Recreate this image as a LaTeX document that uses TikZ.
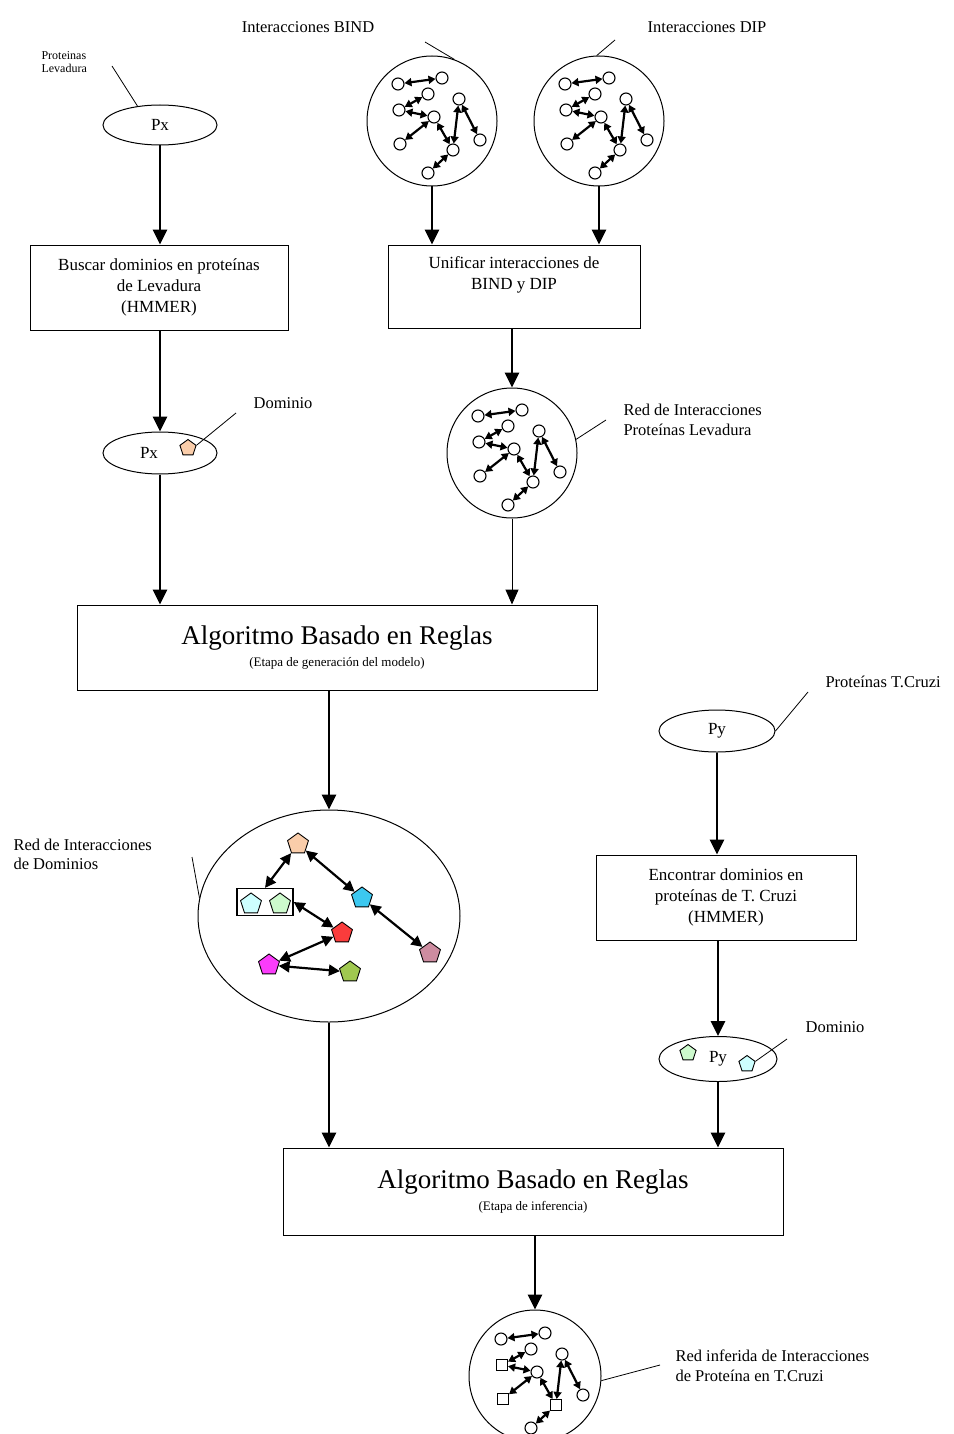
\documentclass[tikz,border=0pt]{standalone}
\usepackage{fontspec}
\setmainfont{Liberation Serif}
\usetikzlibrary{arrows.meta,shapes.geometric}

\definecolor{peach}{RGB}{250,205,170}
\definecolor{palecyan}{RGB}{205,255,255}
\definecolor{palegreen}{RGB}{205,250,205}
\definecolor{skyblue}{RGB}{60,200,240}
\definecolor{domred}{RGB}{250,60,60}
\definecolor{mauve}{RGB}{205,140,160}
\definecolor{dommagenta}{RGB}{250,60,250}
\definecolor{olivegreen}{RGB}{160,200,80}

\tikzset{
  txt/.style={font=\fontsize{17}{21}\selectfont, align=center},
  steptext/.style={draw, line width=1pt, txt, inner sep=0pt},
  prot/.style={draw, line width=1pt, ellipse, inner sep=0pt, txt},
  ring/.style={draw, line width=1pt, circle, minimum size=130pt, inner sep=0pt},
  flow/.style={line width=2.9pt, -{Triangle[length=15pt,width=14pt]}},
  thinflow/.style={line width=1pt, -{Triangle[length=15pt,width=13pt]}},
  callout/.style={line width=0.8pt},
  netnode/.style={draw, line width=1.1pt, circle, fill=white, minimum size=12pt, inner sep=0pt},
  netalt/.style={netnode},
  netlink/.style={line width=2.2pt, {Triangle[length=7pt,width=8pt]}-{Triangle[length=7pt,width=8pt]}},
  penta/.style={draw, line width=0.9pt, regular polygon, regular polygon sides=5, minimum size=#1, inner sep=0pt},
  penta/.default=22pt,
  domlink/.style={line width=2.2pt, {Triangle[length=11pt,width=11pt]}-{Triangle[length=11pt,width=11pt]}},
  pics/protnet/.style={code={
    \foreach \n/\dx/\dy/\k in {A/-34/-37/netnode, B/10/-43/netnode, C/-4/-27/netnode,
        D/-33/-11/netalt, E/2/-4/netnode, F/27/-22/netnode, G/-32/23/netalt,
        H/21/29/netalt, I/48/19/netnode, J/-4/52/netnode}
      \node[\k] (-\n) at (\dx,\dy) {};
    \foreach \s/\t in {A/B, C/D, D/E, E/G, E/H, F/H, F/I, H/J}
      \draw[netlink] (-\s) -- (-\t);
  }}
}

\begin{document}
\begin{tikzpicture}[x=1pt,y=-1pt]
  \clip (0,0) rectangle (953,1434);

  % left column: yeast proteins
  \node[anchor=west, align=left, font=\fontsize{12}{13}\selectfont] (levlabel) at (38,62) {Proteinas\\Levadura};
  \node[prot, minimum width=114pt, minimum height=40pt] (px1) at (160,125) {Px};
  \node[steptext, minimum width=258pt, minimum height=85pt] (box1) at (159,287.5)
    {Buscar dominios en proteínas\\de Levadura\\(HMMER)};
  \node[prot, minimum width=114pt, minimum height=42pt] (px2) at (160,453) {Px\hspace{22pt}};
  \node[penta=17pt, fill=peach] (pentA) at (188,448) {};
  \node[txt, font=\fontsize{16.5}{20}\selectfont] (domlabelA) at (283,403) {Dominio};

  % interaction databases
  \node[txt, font=\fontsize{16.5}{20}\selectfont] (bindlabel) at (308,27) {Interacciones BIND};
  \node[txt, font=\fontsize{16.5}{20}\selectfont] (diplabel) at (707,27) {Interacciones DIP};
  \node[ring] (bindnet) at (432,121) {};
  \pic (bindnodes) at (bindnet) {protnet};
  \node[ring] (dipnet) at (599,121) {};
  \pic (dipnodes) at (dipnet) {protnet};
  \node[steptext, minimum width=252pt, minimum height=83pt] (box2) at (514,286.5)
    {Unificar interacciones de\\BIND y DIP\\ \strut};
  \node[ring] (rednet) at (512,453) {};
  \pic (rednodes) at (rednet) {protnet};
  \node[anchor=west, align=left, font=\fontsize{16.5}{20}\selectfont] (redlabel) at (620,420)
    {Red de Interacciones\\Proteínas Levadura};

  % model generation
  \node[steptext, minimum width=520pt, minimum height=85pt] (big1) at (337,647.5)
    {\fontsize{27}{30}\selectfont Algoritmo Basado en Reglas\\[1pt]
     \fontsize{13}{15}\selectfont (Etapa de generación del modelo)};

  % domain interaction network
  \node[draw, line width=1pt, ellipse, minimum width=262pt, minimum height=212pt] (domnet) at (329,916) {};
  \node[anchor=west, align=left, font=\fontsize{16.5}{19}\selectfont] (domnetlabel) at (10,854)
    {Red de Interacciones\\de Dominios};
  \node[draw, line width=1.3pt, minimum width=56pt, minimum height=27pt, inner sep=0pt] (dombox) at (265,902) {};
  \node[penta, fill=peach] (dpeach) at (298,844) {};
  \node[penta, fill=palecyan] (dcyan) at (251,904) {};
  \node[penta, fill=palegreen] (dgreen) at (280,904) {};
  \node[penta, fill=skyblue] (dblue) at (362,898) {};
  \node[penta, fill=domred] (dred) at (342,933) {};
  \node[penta, fill=mauve] (dmauve) at (430,953) {};
  \node[penta, fill=dommagenta] (dmagenta) at (269,965) {};
  \node[penta, fill=olivegreen] (dolive) at (350,972) {};
  \draw[domlink] (dpeach) -- (dombox.north);
  \draw[domlink] (dpeach) -- (dblue);
  \draw[domlink] (dombox.east) -- (dred);
  \draw[domlink] (dblue) -- (dmauve);
  \draw[domlink] (dred) -- (dmagenta);
  \draw[domlink] (dmagenta) -- (dolive);

  % right column: T. cruzi proteins
  \node[anchor=west, font=\fontsize{16.5}{20}\selectfont] (cruzlabel) at (822,682) {Proteínas T.Cruzi};
  \node[prot, minimum width=116pt, minimum height=42pt] (py1) at (717,731) {Py};
  \node[steptext, minimum width=260pt, minimum height=85pt] (box3) at (726,897.5)
    {Encontrar dominios en\\proteínas de T. Cruzi\\(HMMER)};
  \node[prot, minimum width=118pt, minimum height=45pt] (py2) at (718,1059) {Py};
  \node[penta=17pt, fill=palegreen] (pentB) at (688,1053) {};
  \node[penta=17pt, fill=palecyan] (pentC) at (747,1064) {};
  \node[txt, font=\fontsize{16.5}{20}\selectfont] (domlabelB) at (835,1027) {Dominio};

  % inference
  \node[steptext, minimum width=500pt, minimum height=87pt] (big2) at (533,1191.5)
    {\fontsize{27}{30}\selectfont Algoritmo Basado en Reglas\\[1pt]
     \fontsize{13}{15}\selectfont (Etapa de inferencia)};
  \node[ring, minimum size=132pt] (finnet) at (535,1376) {};
  \pic[netalt/.style={netnode, rectangle, minimum size=11pt}] (finnodes) at (finnet) {protnet};
  \node[anchor=west, align=left, font=\fontsize{16.5}{20}\selectfont] (finlabel) at (672,1366)
    {Red inferida de Interacciones\\de Proteína en T.Cruzi};

  % flow arrows
  \draw[flow] (px1.south) -- (px1.south |- box1.north);
  \draw[flow] (box1.south -| px2.north) -- (px2.north);
  \draw[flow] (px2.south) -- (px2.south |- big1.north);
  \draw[flow] (bindnet.south) -- (bindnet.south |- box2.north);
  \draw[flow] (dipnet.south) -- (dipnet.south |- box2.north);
  \draw[flow] (box2.south -| rednet.north) -- (rednet.north);
  \draw[thinflow] (rednet.south) -- (rednet.south |- big1.north);
  \draw[flow] (big1.south -| domnet.north) -- (domnet.north);
  \draw[flow] (domnet.south) -- (domnet.south |- big2.north);
  \draw[flow] (py1.south) -- (py1.south |- box3.north);
  \draw[flow] (box3.south -| py2.north) -- (py2.north);
  \draw[flow] (py2.south) -- (py2.south |- big2.north);
  \draw[flow] (big2.south -| finnet.north) -- (finnet.north);

  % callout lines
  \coordinate (levtip) at (112,66);
  \draw[callout] (levtip) -- (px1.140);
  \coordinate (domtipA) at (236,413);
  \draw[callout] (domtipA) -- (pentA.corner 5);
  \coordinate (bindtip) at (425,42);
  \draw[callout] (bindtip) -- (bindnet.70);
  \coordinate (diptip) at (615,40);
  \draw[callout] (diptip) -- (dipnet.92);
  \coordinate (redtip) at (606,420);
  \draw[callout] (redtip) -- (rednet.12);
  \coordinate (domnettip) at (192,857);
  \draw[callout] (domnettip) -- (domnet.172);
  \coordinate (cruztip) at (808,692);
  \draw[callout] (cruztip) -- (py1.east);
  \coordinate (domtipB) at (787,1039);
  \draw[callout] (domtipB) -- (pentC.corner 5);
  \coordinate (fintip) at (660,1365);
  \draw[callout] (fintip) -- (finnet.-4);
\end{tikzpicture}
\end{document}
